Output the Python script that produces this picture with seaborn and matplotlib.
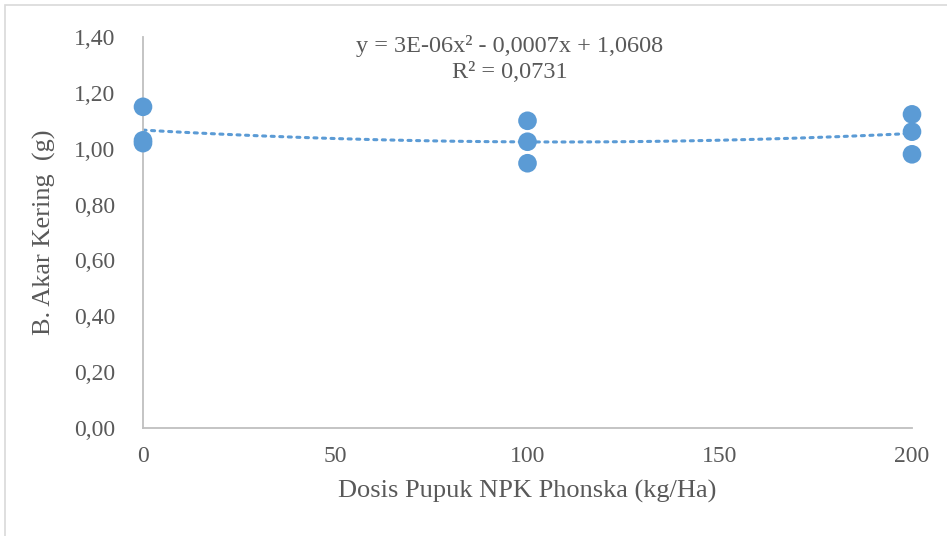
import numpy as np
import pandas as pd
import matplotlib
matplotlib.use("Agg")
import matplotlib.pyplot as plt
import seaborn as sns
from matplotlib.patches import Rectangle

dosis = [0, 0, 0, 100, 100, 100, 200, 200, 200]
berat = [1.15, 1.03, 1.02, 1.10, 1.025, 0.948, 1.123, 1.061, 0.98]
y_ticks = [0.0, 0.2, 0.4, 0.6, 0.8, 1.0, 1.2, 1.4]
x_ticks = [0, 50, 100, 150, 200]
equation = "y = 3E-06x² - 0,0007x + 1,0608"
r2_text = "R² = 0,0731"

sns.set_theme(style="white")
plt.rcParams['font.family'] = ['Liberation Serif', 'DejaVu Serif']

df = pd.DataFrame({"dosis": dosis, "berat": berat})
blue = "#5B9BD5"
txt = "#595959"

fig = plt.figure(figsize=(9.47, 5.36), dpi=100)
ax = fig.add_axes([143/947, 1-428/536, (912-143)/947, (428-37)/536])

coef = np.polyfit(df["dosis"], df["berat"], 2)
xs = np.linspace(0, 200, 200)
ax.plot(xs, np.polyval(coef, xs), color=blue, lw=2.2, ls=(0, (1, 1.8)),
        dash_capstyle="round", zorder=2)
sns.scatterplot(data=df, x="dosis", y="berat", ax=ax, color=blue, s=180,
                edgecolor="none", zorder=3, clip_on=False)

ax.set_xlim(0, 200)
ax.set_ylim(0, 1.4)
ax.set_xticks(x_ticks)
ax.set_xticklabels([str(v) for v in x_ticks])
ax.set_yticks(y_ticks)
ax.set_yticklabels([f"{v:.2f}".replace(".", ",") for v in y_ticks])
ax.tick_params(axis="both", length=0, labelsize=17, colors=txt)
ax.tick_params(axis="x", pad=13)
ax.tick_params(axis="y", pad=20)
for s in ["top", "right"]:
    ax.spines[s].set_visible(False)
for s in ["left", "bottom"]:
    ax.spines[s].set_color("#BFBFBF")
    ax.spines[s].set_linewidth(1.3)

ax.set_xlabel("Dosis Pupuk NPK Phonska (kg/Ha)", fontsize=19, color=txt, labelpad=9)
ax.set_ylabel("B. Akar Kering  (g)", fontsize=19, color=txt, labelpad=13)

fig.text(510/947, 1-46/536, equation, ha="center", va="center", fontsize=17.5, color=txt)
fig.text(510/947, 1-73/536, r2_text, ha="center", va="center", fontsize=17.5, color=txt)

fig.patches.append(Rectangle((5/947, -0.1), 1.2, 1-5/536+0.1, transform=fig.transFigure,
                             fill=False, edgecolor="#D9D9D9", lw=1.2))

fig.savefig("out.png", dpi=100)
